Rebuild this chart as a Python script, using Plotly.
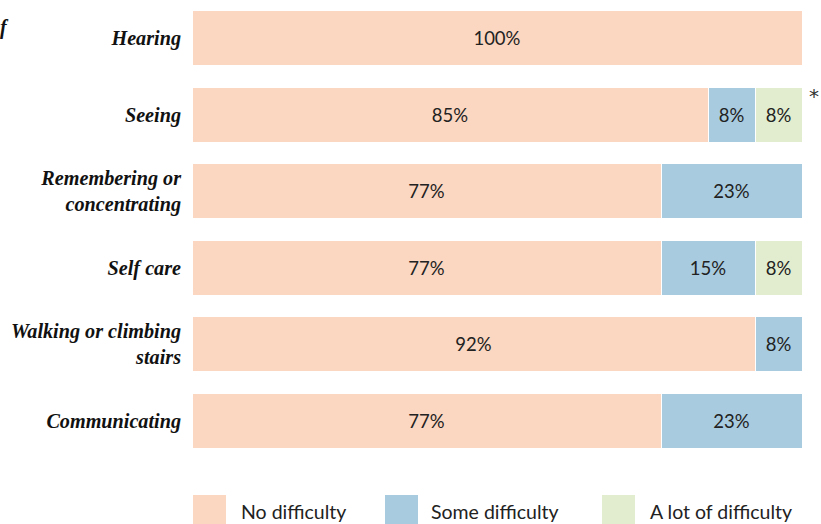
import plotly.graph_objects as go

categories = ["Hearing", "Seeing", "Remembering or<br>concentrating", "Self care",
              "Walking or climbing<br>stairs", "Communicating"]
no_diff = [100.0, 84.6, 76.9, 76.9, 92.3, 76.9]
some_diff = [0.0, 7.7, 23.1, 15.4, 7.7, 23.1]
alot_diff = [0.0, 7.7, 0.0, 7.7, 0.0, 0.0]
no_text = ["100%", "85%", "77%", "77%", "92%", "77%"]
some_text = ["", "8%", "23%", "15%", "8%", "23%"]
alot_text = ["", "8%", "", "8%", "", ""]
series_names = ["No difficulty", "Some difficulty", "A lot of difficulty"]
colors = ["#FBD6C0", "#A8CBE0", "#E2EDCF"]

fig = go.Figure()
for name, vals, txt, col in zip(series_names, [no_diff, some_diff, alot_diff],
                                [no_text, some_text, alot_text], colors):
    fig.add_trace(go.Bar(
        y=categories, x=vals, name=name, orientation="h",
        marker=dict(color=col, line=dict(color="white", width=1)),
        text=txt, textposition="inside", insidetextanchor="middle",
        textfont=dict(family="Lato", size=18.5, color="#222222"),
        hoverinfo="skip", showlegend=False,
    ))

fig.update_layout(
    barmode="stack", bargap=0.28,
    width=821, height=524,
    margin=dict(l=192, r=19, t=0, b=65),
    paper_bgcolor="white", plot_bgcolor="white",
    uniformtext=dict(mode="show", minsize=10),
)
fig.update_xaxes(range=[0, 100], visible=False, fixedrange=True)
fig.update_yaxes(autorange="reversed", showgrid=False, zeroline=False, showline=False,
                 ticks="", ticklabelstandoff=10,
                 tickfont=dict(family="Liberation Serif", size=20.2, color="#111111",
                               weight="bold", style="italic"))

# manual legend (pixel positions converted to paper coords)
def px(x):
    return (x - 192) / 610

def py(y):
    return (459 - y) / 459

leg_sq = [193, 385, 602]
leg_tx = [240, 430, 649]
for sx, tx, name, col in zip(leg_sq, leg_tx, series_names, colors):
    fig.add_shape(type="rect", xref="paper", yref="paper",
                  x0=px(sx), x1=px(sx + 33), y0=py(526), y1=py(495),
                  fillcolor=col, line=dict(width=0))
    fig.add_annotation(xref="paper", yref="paper", x=px(tx - 1), y=py(512),
                       text=name, showarrow=False, xanchor="left", yanchor="middle",
                       font=dict(family="Lato", size=19.5, color="#222222"))

fig.add_annotation(xref="paper", yref="paper", x=px(807), y=py(96),
                   text="*", showarrow=False, xanchor="left", yanchor="middle",
                   font=dict(family="DejaVu Sans", size=20, color="#333333"))
fig.add_annotation(xref="paper", yref="paper", x=px(-2), y=py(27),
                   text="f", showarrow=False, xanchor="left", yanchor="middle",
                   font=dict(family="Liberation Serif", size=20, color="#111111",
                             weight="bold", style="italic"))

fig.write_html("out.html")
